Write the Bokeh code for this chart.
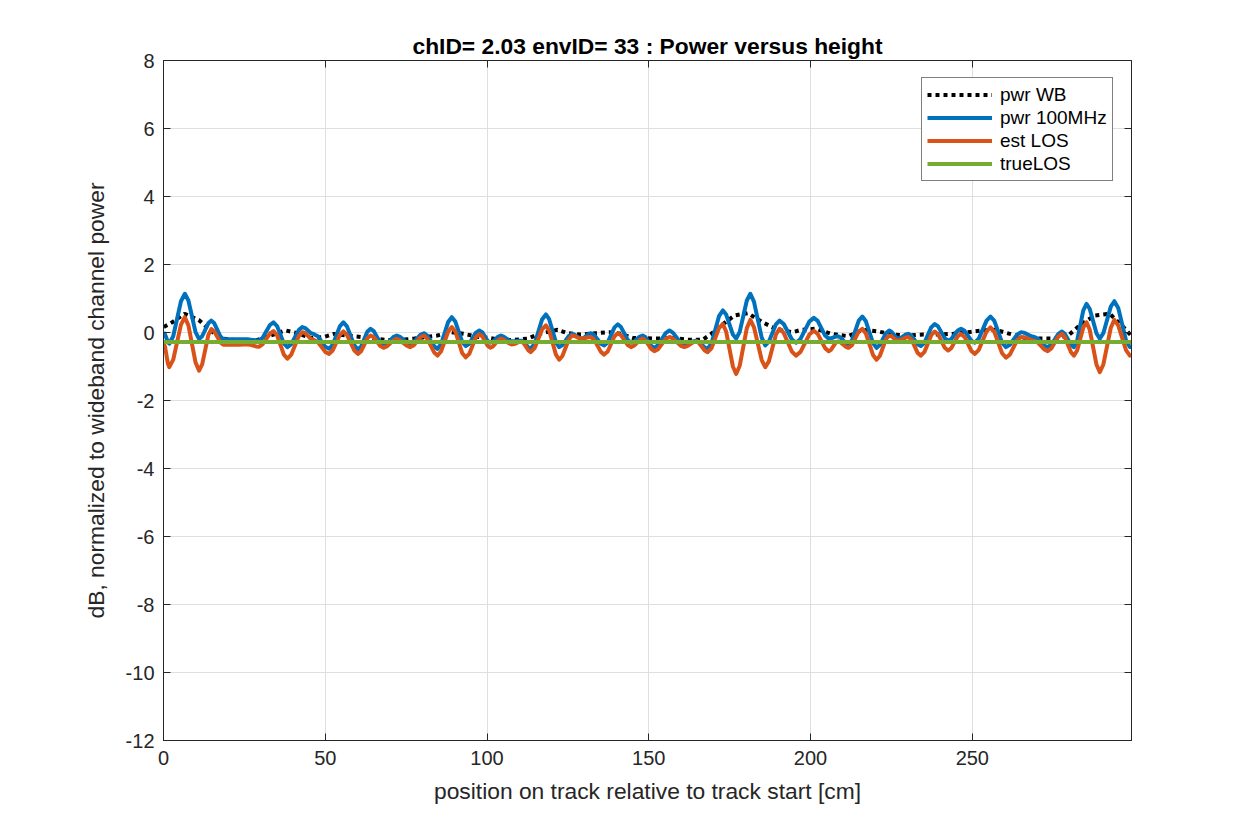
from bokeh.plotting import figure
from bokeh.models import (Range1d, FixedTicker, LinearAxis, Legend, LegendItem,
                          CustomLabelingPolicy)
from bokeh.embed import file_html
from bokeh.resources import INLINE

# ---- data ----
x_pos = [0.0, 0.45, 1.35, 1.8, 3.0, 5.4, 6.6, 7.7, 9.9, 11.0, 11.95, 13.85, 14.8, 15.7, 17.6,
         18.5, 19.4, 21.1, 22.0, 23.0, 25.0, 26.0, 26.9, 28.6, 29.5, 30.6, 32.9, 34.0, 35.1, 37.2,
         38.3, 39.5, 41.8, 42.9, 43.8, 45.6, 46.5, 47.7, 50.0, 51.2, 52.3, 54.5, 55.6, 56.7, 59.0,
         60.1, 61.1, 63.0, 64.0, 65.0, 67.0, 68.0, 69.0, 71.1, 72.1, 73.1, 75.2, 76.2, 77.3, 79.4,
         80.5, 81.5, 83.7, 84.7, 85.8, 88.0, 89.1, 90.2, 92.3, 93.4, 94.5, 96.5, 97.6, 98.5, 100.2,
         101.0, 101.8, 103.5, 104.3, 105.1, 106.8, 107.6, 108.4, 109.9, 110.7, 111.4, 112.8,
         113.5, 114.7, 117.0, 118.2, 119.2, 121.3, 122.3, 123.3, 125.3, 126.3, 127.0, 128.5,
         129.2, 129.9, 131.4, 132.1, 133.1, 135.2, 136.2, 137.3, 139.4, 140.4, 141.4, 143.5,
         144.5, 145.4, 147.2, 148.1, 149.0, 150.8, 151.7, 152.9, 155.2, 156.4, 157.5, 159.9,
         161.0, 161.9, 163.7, 164.6, 165.5, 167.3, 168.2, 169.4, 171.7, 172.9, 173.9, 176.0,
         177.0, 178.1, 180.3, 181.4, 182.5, 184.9, 186.0, 187.1, 189.3, 190.4, 191.7, 194.2,
         195.5, 196.9, 199.6, 201.0, 202.2, 204.5, 205.6, 206.3, 207.8, 208.5, 209.3, 210.9,
         211.7, 212.8, 214.9, 216.0, 217.1, 219.3, 220.4, 221.4, 223.3, 224.3, 225.0, 226.4,
         227.1, 227.9, 229.4, 230.2, 231.2, 233.1, 234.1, 235.2, 237.3, 238.4, 239.4, 241.5,
         242.5, 243.5, 245.5, 246.5, 247.6, 249.7, 250.8, 252.0, 254.4, 255.6, 256.8, 259.2,
         260.4, 261.6, 263.9, 265.1, 266.1, 268.2, 269.2, 270.2, 272.3, 273.3, 274.4, 276.6,
         277.7, 278.6, 280.5, 281.4, 282.4, 284.3, 285.3, 286.3, 288.4, 289.4, 290.5, 292.8,
         293.9, 295.1, 297.5, 298.7, 299.2]

pwr_100mhz = [0.00, -0.05, -0.28, -0.33, -0.11, 0.92, 1.14, 0.94, 0.01, -0.19, -0.11, 0.27,
              0.35, 0.27, -0.12, -0.20, -0.20, -0.20, -0.20, -0.20, -0.20, -0.20, -0.21, -0.23,
              -0.24, -0.16, 0.22, 0.30, 0.19, -0.32, -0.43, -0.34, 0.07, 0.16, 0.13, -0.02,
              -0.05, -0.11, -0.42, -0.48, -0.36, 0.18, 0.30, 0.18, -0.38, -0.50, -0.41, 0.02,
              0.11, 0.04, -0.31, -0.38, -0.34, -0.13, -0.09, -0.13, -0.29, -0.33, -0.28, -0.07,
              -0.02, -0.09, -0.41, -0.48, -0.34, 0.31, 0.45, 0.32, -0.27, -0.40, -0.33, -0.01,
              0.06, 0.01, -0.25, -0.30, -0.27, -0.12, -0.09, -0.12, -0.23, -0.26, -0.26, -0.24,
              -0.24, -0.28, -0.44, -0.48, -0.33, 0.38, 0.53, 0.39, -0.29, -0.43, -0.37, -0.10,
              -0.04, -0.06, -0.16, -0.18, -0.16, -0.04, -0.02, -0.07, -0.33, -0.38, -0.29, 0.15,
              0.24, 0.16, -0.22, -0.30, -0.27, -0.12, -0.09, -0.14, -0.40, -0.45, -0.37, -0.02,
              0.06, -0.01, -0.31, -0.38, -0.36, -0.26, -0.24, -0.28, -0.44, -0.48, -0.31, 0.48,
              0.65, 0.53, -0.06, -0.18, 0.02, 0.94, 1.14, 0.91, -0.15, -0.38, -0.27, 0.24,
              0.35, 0.25, -0.20, -0.30, -0.19, 0.32, 0.43, 0.34, -0.09, -0.18, -0.17, -0.12,
              -0.11, -0.15, -0.31, -0.35, -0.23, 0.35, 0.47, 0.33, -0.31, -0.45, -0.37, -0.02,
              0.06, 0.02, -0.14, -0.18, -0.16, -0.06, -0.04, -0.09, -0.35, -0.40, -0.30, 0.15,
              0.25, 0.18, -0.17, -0.24, -0.19, 0.06, 0.11, 0.05, -0.24, -0.30, -0.18, 0.35,
              0.47, 0.34, -0.30, -0.43, -0.36, -0.06, 0.01, -0.01, -0.11, -0.13, -0.18, -0.39,
              -0.43, -0.36, -0.04, 0.03, -0.04, -0.36, -0.43, -0.24, 0.65, 0.84, 0.69, -0.03,
              -0.18, -0.02, 0.76, 0.92, 0.72, -0.23, -0.43, -0.43]

est_los = [-0.30, -0.41, -0.91, -1.02, -0.80, 0.23, 0.45, 0.21, -0.88, -1.12, -0.94, -0.08,
           0.10, 0.03, -0.29, -0.36, -0.36, -0.36, -0.36, -0.36, -0.35, -0.35, -0.36, -0.41,
           -0.42, -0.35, -0.03, 0.04, -0.08, -0.65, -0.77, -0.65, -0.11, 0.01, -0.02, -0.19,
           -0.22, -0.28, -0.57, -0.63, -0.53, -0.07, 0.03, -0.07, -0.53, -0.63, -0.55, -0.17,
           -0.09, -0.14, -0.40, -0.45, -0.41, -0.23, -0.19, -0.23, -0.39, -0.43, -0.38, -0.14,
           -0.09, -0.18, -0.59, -0.68, -0.55, 0.03, 0.16, 0.03, -0.60, -0.73, -0.63, -0.15,
           -0.05, -0.11, -0.39, -0.45, -0.41, -0.22, -0.18, -0.21, -0.32, -0.35, -0.34, -0.28,
           -0.27, -0.32, -0.53, -0.58, -0.46, 0.09, 0.21, 0.06, -0.65, -0.80, -0.69, -0.20,
           -0.09, -0.10, -0.17, -0.18, -0.17, -0.14, -0.13, -0.21, -0.57, -0.65, -0.56, -0.11,
           -0.02, -0.08, -0.37, -0.43, -0.39, -0.22, -0.18, -0.24, -0.49, -0.55, -0.49, -0.19,
           -0.13, -0.18, -0.39, -0.43, -0.40, -0.29, -0.26, -0.31, -0.53, -0.58, -0.46, 0.13,
           0.25, 0.03, -1.00, -1.22, -0.98, 0.13, 0.37, 0.16, -0.81, -1.02, -0.85, -0.06,
           0.11, -0.01, -0.56, -0.68, -0.57, -0.06, 0.05, -0.04, -0.46, -0.55, -0.51, -0.30,
           -0.26, -0.29, -0.42, -0.45, -0.37, 0.03, 0.11, -0.03, -0.66, -0.80, -0.69, -0.20,
           -0.09, -0.11, -0.22, -0.24, -0.22, -0.15, -0.13, -0.21, -0.60, -0.68, -0.57, -0.08,
           0.03, -0.05, -0.45, -0.53, -0.46, -0.11, -0.04, -0.13, -0.54, -0.63, -0.51, 0.03,
           0.15, 0.02, -0.61, -0.74, -0.65, -0.22, -0.13, -0.15, -0.22, -0.24, -0.29, -0.50,
           -0.55, -0.47, -0.12, -0.04, -0.14, -0.58, -0.68, -0.53, 0.15, 0.30, 0.08, -0.95,
           -1.17, -0.94, 0.14, 0.37, 0.21, -0.52, -0.68, -0.65]

wb_x = [0.1, 2.7, 6.5, 10.9, 14.5, 18.1, 22.0, 26.0, 29.0, 33.0, 37.7, 41.4, 45.5, 49.6, 52.7, 56.8,
        60.9, 65.1, 69.2, 73.3, 77.4, 81.5, 84.6, 89.0, 93.0, 97.0, 101.0, 104.3, 108.0, 112.5, 116.1,
        121.8, 124.9, 129.0, 133.6, 137.7, 141.4, 145.0, 148.6, 152.2, 157.4, 162.0, 166.7, 169.3,
        172.4, 176.5, 180.6, 185.2, 189.8, 194.5, 197.1, 201.7, 206.4, 211.6, 216.2, 220.9, 225.6,
        230.2, 234.8, 239.4, 244.1, 248.7, 252.8, 257.0, 261.6, 266.2, 270.9, 275.5, 279.6, 283.7,
        287.9, 292.5, 296.7, 299.2]
pwr_wb = [0.16, 0.30, 0.55, 0.37, 0.06, -0.18, -0.22, -0.22, -0.22, -0.09, 0.06, -0.02, -0.16, -0.13,
          -0.04, -0.09, -0.13, -0.18, -0.22, -0.22, -0.18, -0.13, -0.09, 0.01, -0.04, -0.13, -0.16,
          -0.22, -0.22, -0.18, -0.04, 0.08, -0.02, -0.06, -0.02, 0.01, -0.04, -0.16, -0.16, -0.18,
          -0.16, -0.21, -0.21, -0.04, 0.21, 0.50, 0.57, 0.30, 0.08, 0.01, 0.08, 0.11, -0.04, -0.11,
          0.08, 0.03, -0.06, -0.09, -0.06, -0.06, -0.04, 0.01, 0.06, 0.08, -0.04, -0.16, -0.18, -0.18,
          -0.09, 0.25, 0.50, 0.55, 0.16, -0.10]

los_x = [0.0, 299.2]
true_los = [-0.28, -0.28]

x_ticks = [0, 50, 100, 150, 200, 250]
y_ticks = [-12, -10, -8, -6, -4, -2, 0, 2, 4, 6, 8]

FONT = "Liberation Sans"
INK = "#262626"

p = figure(width=1234, height=817, output_backend="svg", toolbar_location=None,
           x_range=Range1d(0, 299.2), y_range=Range1d(-12, 8),
           frame_width=968, frame_height=680,
           min_border_left=163, min_border_right=103, min_border_top=60, min_border_bottom=77)

p.title.text = "chID= 2.03 envID= 33 : Power versus height"
p.title.align = "center"
p.title.text_font = FONT
p.title.text_font_size = "22.8px"
p.title.text_font_style = "bold"
p.title.text_color = "black"
p.title.offset = 0
p.title.standoff = 4

for ax in (p.xaxis[0], p.yaxis[0]):
    ax.major_label_text_font = FONT
    ax.major_label_text_font_size = "20px"
    ax.major_label_text_color = INK
    ax.axis_label_text_font = FONT
    ax.axis_label_text_font_size = "22.8px"
    ax.axis_label_text_font_style = "normal"
    ax.axis_label_text_color = INK
    ax.major_tick_in = 7
    ax.major_tick_out = 0
    ax.minor_tick_line_color = None
    ax.axis_line_color = INK
    ax.major_tick_line_color = INK

p.xaxis[0].ticker = FixedTicker(ticks=x_ticks)
p.yaxis[0].ticker = FixedTicker(ticks=y_ticks)
p.yaxis[0].major_label_overrides = {t: str(t) for t in y_ticks}
p.xaxis[0].major_label_overrides = {t: str(t) for t in x_ticks}
p.xaxis[0].axis_label = "position on track relative to track start [cm]"
p.yaxis[0].axis_label = "dB, normalized to wideband channel power"
p.xaxis[0].major_label_standoff = 10
p.yaxis[0].major_label_standoff = 9
p.xaxis[0].axis_label_standoff = 10
p.yaxis[0].axis_label_standoff = 14

no_labels = CustomLabelingPolicy(code="""
const all = Array.from(indices)
for (const i of all) { indices.unset(i) }
return indices
""")

for loc, tk in (("right", y_ticks), ("above", x_ticks)):
    a = LinearAxis(ticker=FixedTicker(ticks=tk), major_tick_in=7, major_tick_out=0,
                   minor_tick_line_color=None, major_label_text_font_size="0px",
                   major_label_policy=no_labels, major_label_standoff=0,
                   axis_line_color=INK, major_tick_line_color=INK)
    p.add_layout(a, loc)

p.xgrid.ticker = FixedTicker(ticks=x_ticks)
p.ygrid.ticker = FixedTicker(ticks=y_ticks)
p.grid.grid_line_color = "#dfdfdf"
p.grid.grid_line_width = 1
p.outline_line_color = INK
p.background_fill_color = "white"
p.border_fill_color = "white"

r_wb = p.line(wb_x, pwr_wb, line_color="black", line_width=4, line_dash="4 4")
r_bl = p.line(x_pos, pwr_100mhz, line_color="#0072BD", line_width=4, line_join="round")
r_or = p.line(x_pos, est_los, line_color="#D95319", line_width=4, line_join="round")
r_gr = p.line(los_x, true_los, line_color="#77AC30", line_width=4)

legend = Legend(items=[LegendItem(label="pwr WB", renderers=[r_wb]),
                       LegendItem(label="pwr 100MHz", renderers=[r_bl]),
                       LegendItem(label="est LOS", renderers=[r_or]),
                       LegendItem(label="trueLOS", renderers=[r_gr])],
                location=(758, 559), orientation="vertical",
                label_text_font=FONT, label_text_font_size="19px", label_text_color="black",
                glyph_width=65, glyph_height=23, label_height=23, spacing=0,
                padding=5, margin=0, label_standoff=8,
                border_line_color="black", border_line_width=1,
                background_fill_color="white", background_fill_alpha=1)
p.add_layout(legend)

open("out.html", "w").write(file_html(p, INLINE))
